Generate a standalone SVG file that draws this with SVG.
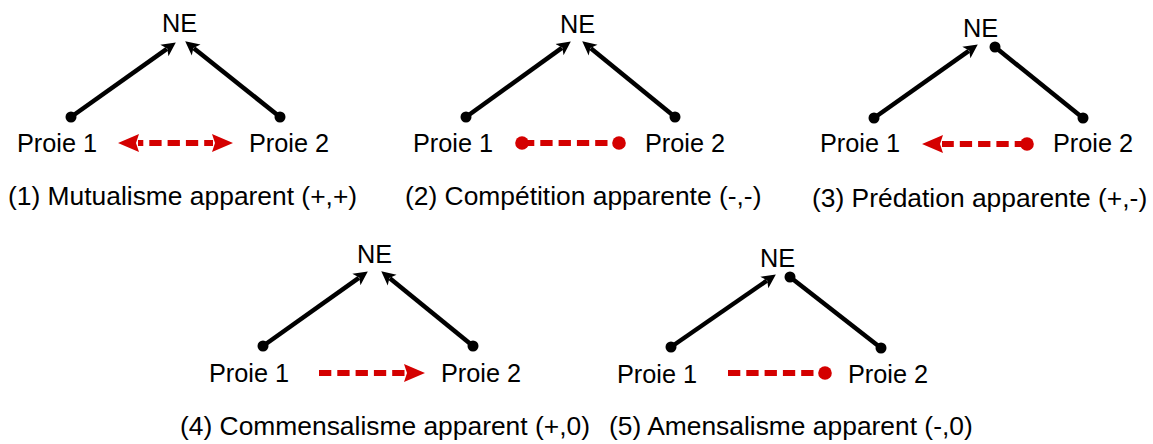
<svg xmlns="http://www.w3.org/2000/svg" width="1153" height="444" viewBox="0 0 1153 444">
<style>
text{font-family:"Liberation Sans",Arial,sans-serif;fill:#000}
.lbl{font-size:25.3px}
.cap{font-size:26.4px}
.blk{stroke:#000;stroke-width:4.5;fill:none}
.red{stroke:#d40000;stroke-width:6;fill:none;stroke-dasharray:12.3 6}
</style>
<defs>
<marker id="ah" viewBox="-3 -8 15 16" refX="0" refY="0" markerWidth="15" markerHeight="16" markerUnits="userSpaceOnUse" orient="auto">
<path d="M-3,-7 L11,0 L-3,7 L0.5,0 z" fill="#000"/>
</marker>
<marker id="dot" viewBox="-6 -6 12 12" refX="0" refY="0" markerWidth="12" markerHeight="12" markerUnits="userSpaceOnUse">
<circle r="5.5" fill="#000"/>
</marker>
<marker id="rah" viewBox="-1 -10 23 20" refX="0" refY="0" markerWidth="23" markerHeight="20" markerUnits="userSpaceOnUse" orient="auto-start-reverse">
<path d="M-1,-9 L20,0 L-1,9 L2,0 z" fill="#d40000"/>
</marker>
<marker id="rdot" viewBox="-8 -8 16 16" refX="0" refY="0" markerWidth="16" markerHeight="16" markerUnits="userSpaceOnUse">
<circle r="6.8" fill="#d40000"/>
</marker>
</defs>

<g id="connectors">
<!-- panel 1 -->
<path class="blk" d="M71,117 L166.85,48.8" marker-start="url(#dot)" marker-end="url(#ah)"/>
<path class="blk" d="M280,117 L193.8,48.2" marker-start="url(#dot)" marker-end="url(#ah)"/>
<path class="red" d="M138,143 L213,143" style="stroke-dashoffset:7" marker-start="url(#rah)" marker-end="url(#rah)"/>
<!-- panel 2 -->
<path class="blk" d="M466,117 L561.9,47.85" marker-start="url(#dot)" marker-end="url(#ah)"/>
<path class="blk" d="M675,117 L590.75,48.3" marker-start="url(#dot)" marker-end="url(#ah)"/>
<path class="red" d="M522,143 L619,143" marker-start="url(#rdot)" marker-end="url(#rdot)"/>
<!-- panel 3 -->
<path class="blk" d="M874,118 L968.8,50.8" marker-start="url(#dot)" marker-end="url(#ah)"/>
<path class="blk" d="M995,47 L1083,118" marker-start="url(#dot)" marker-end="url(#dot)"/>
<path class="red" d="M1027,144 L942,144" marker-start="url(#rdot)" marker-end="url(#rah)"/>
<!-- panel 4 -->
<path class="blk" d="M263,346 L358.85,277.8" marker-start="url(#dot)" marker-end="url(#ah)"/>
<path class="blk" d="M473,346 L389.8,278.3" marker-start="url(#dot)" marker-end="url(#ah)"/>
<path class="red" d="M319,373 L405,373" marker-end="url(#rah)"/>
<!-- panel 5 -->
<path class="blk" d="M671,347 L766.8,280.7" marker-start="url(#dot)" marker-end="url(#ah)"/>
<path class="blk" d="M790,277 L881,348" marker-start="url(#dot)" marker-end="url(#dot)"/>
<path class="red" d="M728,373 L825,373" marker-end="url(#rdot)"/>
</g>

<g id="panel1">
<text class="lbl" x="162" y="32">NE</text>
<text class="lbl" x="17" y="152">Proie 1</text>
<text class="lbl" x="249" y="152">Proie 2</text>
<text class="cap" x="8" y="205">(1) Mutualisme apparent (+,+)</text>
</g>
<g id="panel2">
<text class="lbl" x="560" y="33">NE</text>
<text class="lbl" x="413" y="152">Proie 1</text>
<text class="lbl" x="645" y="152">Proie 2</text>
<text class="cap" x="405" y="205">(2) Compétition apparente (-,-)</text>
</g>
<g id="panel3">
<text class="lbl" x="963" y="37">NE</text>
<text class="lbl" x="820" y="152">Proie 1</text>
<text class="lbl" x="1053" y="152">Proie 2</text>
<text class="cap" x="812" y="207">(3) Prédation apparente (+,-)</text>
</g>
<g id="panel4">
<text class="lbl" x="357" y="263">NE</text>
<text class="lbl" x="209" y="382">Proie 1</text>
<text class="lbl" x="441" y="382">Proie 2</text>
<text class="cap" x="180" y="435">(4) Commensalisme apparent (+,0)</text>
</g>
<g id="panel5">
<text class="lbl" x="760" y="267">NE</text>
<text class="lbl" x="617" y="383">Proie 1</text>
<text class="lbl" x="848" y="383">Proie 2</text>
<text class="cap" x="609" y="435">(5) Amensalisme apparent (-,0)</text>
</g>
</svg>
